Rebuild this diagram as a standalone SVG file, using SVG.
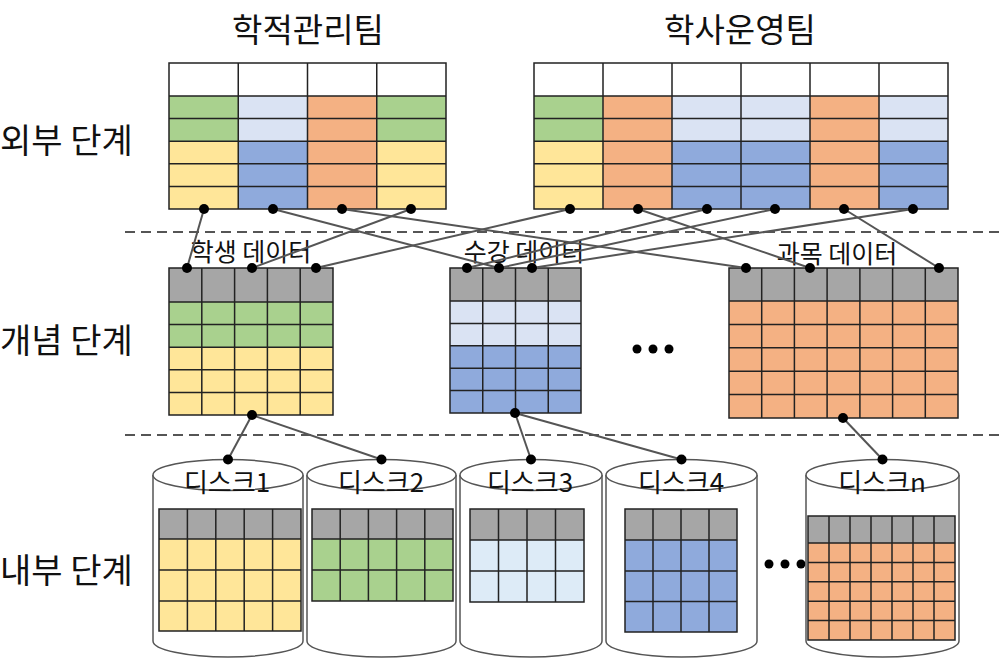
<svg xmlns="http://www.w3.org/2000/svg" width="1008" height="662" viewBox="0 0 1008 662">
<style>
text{font-family:"Noto Sans CJK KR","Noto Sans",sans-serif;fill:#111}
.big{font-size:34px}
.lab{font-size:25px;text-anchor:middle}
.dl{font-size:26px;text-anchor:middle}
.ttl{font-size:33px;text-anchor:middle}
.w{fill:#fff}.g{fill:#a9d18e}.y{fill:#ffe699}.lb{fill:#dae3f3}.lc{fill:#ddebf7}.b{fill:#8faadc}.o{fill:#f4b183}.gr{fill:#a6a6a6}
.grid{fill:none;stroke:#222;stroke-width:1.5}
.cyl{fill:#fff;stroke:#555;stroke-width:1.5}
.con line{stroke:#555;stroke-width:2}
.con circle{fill:#000}
.dash{stroke:#555;stroke-width:2;stroke-dasharray:10 6}
.dots circle{fill:#000}
</style>

<!-- level labels -->
<text class="big" x="0" y="153">외부 단계</text>
<text class="big" x="0" y="353">개념 단계</text>
<text class="big" x="0" y="583">내부 단계</text>
<text class="ttl" x="308" y="42">학적관리팀</text>
<text class="ttl" x="740" y="42">학사운영팀</text>

<line class="dash" x1="125" y1="232" x2="1000" y2="232"/>
<line class="dash" x1="125" y1="435" x2="1000" y2="435"/>

<!-- top-left table -->
<g id="t1">
<rect class="w" x="169" y="63" width="277" height="33"/>
<rect class="g" x="169" y="96" width="69.25" height="45.2"/>
<rect class="y" x="169" y="141.2" width="69.25" height="67.8"/>
<rect class="lb" x="238.25" y="96" width="69.25" height="45.2"/>
<rect class="b" x="238.25" y="141.2" width="69.25" height="67.8"/>
<rect class="o" x="307.5" y="96" width="69.25" height="113"/>
<rect class="g" x="376.75" y="96" width="69.25" height="45.2"/>
<rect class="y" x="376.75" y="141.2" width="69.25" height="67.8"/>
<path class="grid" d="M169 63H446V209H169Z M169 96H446 M169 118.6H446 M169 141.2H446 M169 163.8H446 M169 186.4H446 M238.25 63V209 M307.5 63V209 M376.75 63V209"/>
</g>

<!-- top-right table -->
<g id="t2">
<rect class="w" x="534" y="63" width="414" height="33"/>
<rect class="g" x="534" y="96" width="69" height="45.2"/>
<rect class="y" x="534" y="141.2" width="69" height="67.8"/>
<rect class="o" x="603" y="96" width="69" height="113"/>
<rect class="lb" x="672" y="96" width="138" height="45.2"/>
<rect class="b" x="672" y="141.2" width="138" height="67.8"/>
<rect class="o" x="810" y="96" width="69" height="113"/>
<rect class="lb" x="879" y="96" width="69" height="45.2"/>
<rect class="b" x="879" y="141.2" width="69" height="67.8"/>
<path class="grid" d="M534 63H948V209H534Z M534 96H948 M534 118.6H948 M534 141.2H948 M534 163.8H948 M534 186.4H948 M603 63V209 M672 63V209 M741 63V209 M810 63V209 M879 63V209"/>
</g>

<!-- conceptual: student data -->
<g id="m1">
<text class="lab" x="251" y="261">학생 데이터</text>
<rect class="gr" x="169" y="268" width="164" height="34"/>
<rect class="g" x="169" y="302" width="164" height="45.2"/>
<rect class="y" x="169" y="347.2" width="164" height="67.8"/>
<path class="grid" d="M169 268H333V415H169Z M169 302H333 M169 324.6H333 M169 347.2H333 M169 369.8H333 M169 392.4H333 M201.8 268V415 M234.6 268V415 M267.4 268V415 M300.2 268V415"/>
</g>

<!-- conceptual: enrollment data -->
<g id="m2">
<text class="lab" x="524" y="261">수강 데이터</text>
<rect class="gr" x="450" y="268" width="131" height="33"/>
<rect class="lb" x="450" y="301" width="131" height="44.8"/>
<rect class="b" x="450" y="345.8" width="131" height="67.2"/>
<path class="grid" d="M450 268H581V413H450Z M450 301H581 M450 323.4H581 M450 345.8H581 M450 368.2H581 M450 390.6H581 M482.75 268V413 M515.5 268V413 M548.25 268V413"/>
</g>

<!-- conceptual: course data -->
<g id="m3">
<text class="lab" x="837" y="263">과목 데이터</text>
<rect class="gr" x="729" y="268" width="229" height="33"/>
<rect class="o" x="729" y="301" width="229" height="117"/>
<path class="grid" d="M729 268H958V418H729Z M729 301H958 M729 324.4H958 M729 347.8H958 M729 371.2H958 M729 394.6H958 M761.7 268V418 M794.4 268V418 M827.1 268V418 M859.9 268V418 M892.6 268V418 M925.3 268V418"/>
</g>

<g id="ellipsis-mid" class="dots">
<circle cx="637" cy="349" r="4.5"/><circle cx="653" cy="349" r="4.5"/><circle cx="669" cy="349" r="4.5"/>
</g>

<!-- disks -->
<g id="d1">
<path class="cyl" d="M153 475V641A75 16 0 0 0 303 641V475"/>
<ellipse class="cyl" cx="228" cy="475" rx="75" ry="15.5"/>
<text class="dl" x="227" y="492">디스크1</text>
<rect class="gr" x="159" y="509" width="142" height="30"/>
<rect class="y" x="159" y="539" width="142" height="92"/>
<path class="grid" d="M159 509H301V631H159Z M159 539H301 M159 570H301 M159 601H301 M187.4 509V631 M215.8 509V631 M244.2 509V631 M272.6 509V631"/>
</g>
<g id="d2">
<path class="cyl" d="M307 475V641A74.5 16 0 0 0 456 641V475"/>
<ellipse class="cyl" cx="381.5" cy="475" rx="74.5" ry="15.5"/>
<text class="dl" x="381" y="492">디스크2</text>
<rect class="gr" x="312" y="509" width="141" height="30"/>
<rect class="g" x="312" y="539" width="141" height="62"/>
<path class="grid" d="M312 509H453V601H312Z M312 539H453 M312 570H453 M340.2 509V601 M368.4 509V601 M396.6 509V601 M424.8 509V601"/>
</g>
<g id="d3">
<path class="cyl" d="M460 475V641A71 16 0 0 0 602 641V475"/>
<ellipse class="cyl" cx="531" cy="475" rx="71" ry="15.5"/>
<text class="dl" x="530" y="492">디스크3</text>
<rect class="gr" x="470" y="509" width="114" height="31"/>
<rect class="lc" x="470" y="540" width="114" height="62"/>
<path class="grid" d="M470 509H584V602H470Z M470 540H584 M470 571H584 M498.5 509V602 M527 509V602 M555.5 509V602"/>
</g>
<g id="d4">
<path class="cyl" d="M606 475V641A75.5 16 0 0 0 757 641V475"/>
<ellipse class="cyl" cx="681.5" cy="475" rx="75.5" ry="15.5"/>
<text class="dl" x="681" y="492">디스크4</text>
<rect class="gr" x="625" y="509" width="112" height="31"/>
<rect class="b" x="625" y="540" width="112" height="92"/>
<path class="grid" d="M625 509H737V632H625Z M625 540H737 M625 571H737 M625 601.5H737 M653 509V632 M681 509V632 M709 509V632"/>
</g>
<g id="ellipsis-disk" class="dots">
<circle cx="769" cy="564" r="4.5"/><circle cx="785" cy="564" r="4.5"/><circle cx="801" cy="564" r="4.5"/>
</g>
<g id="dn">
<path class="cyl" d="M806 475V641A76.5 16 0 0 0 959 641V475"/>
<ellipse class="cyl" cx="882.5" cy="475" rx="76.5" ry="15.5"/>
<text class="dl" x="882" y="492">디스크n</text>
<rect class="gr" x="808" y="516" width="147" height="27"/>
<rect class="o" x="808" y="543" width="147" height="97"/>
<path class="grid" d="M808 516H955V640H808Z M808 543H955 M808 562.4H955 M808 581.8H955 M808 601.2H955 M808 620.6H955 M829 516V640 M850 516V640 M871 516V640 M892 516V640 M913 516V640 M934 516V640"/>
</g>

<!-- connectors -->
<g id="connectors" class="con">
<line x1="204" y1="209" x2="187" y2="268"/>
<line x1="273" y1="209" x2="499" y2="268"/>
<line x1="342" y1="209" x2="746" y2="268"/>
<line x1="411" y1="209" x2="252" y2="268"/>
<line x1="570" y1="209" x2="316" y2="268"/>
<line x1="638" y1="209" x2="810" y2="268"/>
<line x1="707" y1="209" x2="467" y2="268"/>
<line x1="775" y1="209" x2="499" y2="268"/>
<line x1="844" y1="209" x2="939" y2="268"/>
<line x1="913" y1="209" x2="532" y2="268"/>
<line x1="252" y1="415" x2="228" y2="459.5"/>
<line x1="252" y1="415" x2="381.5" y2="459.5"/>
<line x1="515" y1="413" x2="531" y2="459.5"/>
<line x1="515" y1="413" x2="681.5" y2="459.5"/>
<line x1="843" y1="418" x2="882.5" y2="459.5"/>
<circle cx="204" cy="209" r="5"/><circle cx="273" cy="209" r="5"/><circle cx="342" cy="209" r="5"/><circle cx="411" cy="209" r="5"/>
<circle cx="570" cy="209" r="5"/><circle cx="638" cy="209" r="5"/><circle cx="707" cy="209" r="5"/><circle cx="775" cy="209" r="5"/><circle cx="844" cy="209" r="5"/><circle cx="913" cy="209" r="5"/>
<circle cx="187" cy="268" r="5"/><circle cx="252" cy="268" r="5"/><circle cx="316" cy="268" r="5"/>
<circle cx="467" cy="268" r="5"/><circle cx="499" cy="268" r="5"/><circle cx="532" cy="268" r="5"/>
<circle cx="746" cy="268" r="5"/><circle cx="810" cy="268" r="5"/><circle cx="939" cy="268" r="5"/>
<circle cx="252" cy="415" r="5"/><circle cx="515" cy="413" r="5"/><circle cx="843" cy="418" r="5"/>
<circle cx="228" cy="459.5" r="5"/><circle cx="381.5" cy="459.5" r="5"/><circle cx="531" cy="459.5" r="5"/><circle cx="681.5" cy="459.5" r="5"/><circle cx="882.5" cy="459.5" r="5"/>
</g>
</svg>
